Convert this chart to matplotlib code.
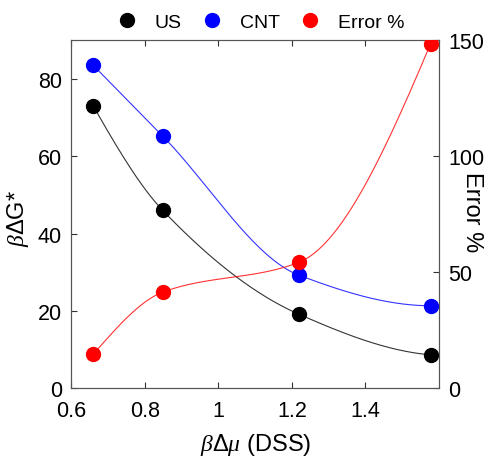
import numpy as np
import matplotlib
matplotlib.use("Agg")
import matplotlib.pyplot as plt
from matplotlib.lines import Line2D

plt.rcParams['font.family'] = ['Liberation Sans', 'DejaVu Sans']
plt.rcParams['mathtext.fontset'] = 'custom'
plt.rcParams['mathtext.rm'] = 'Liberation Sans'
plt.rcParams['mathtext.it'] = 'Liberation Serif:italic'

# data
dmu = [0.659, 0.848, 1.219, 1.577]
us = [73.1, 46.1, 19.2, 8.7]
cnt = [83.6, 65.3, 29.3, 21.4]
err = [14.8, 41.5, 54.4, 148.5]

xticks = [0.6, 0.8, 1.0, 1.2, 1.4]
xticklabels = ['0.6', '0.8', '1', '1.2', '1.4']


def pchip(x, y, n=300):
    # shape preserving cubic (Fritsch-Carlson, like matlab pchip)
    x = np.asarray(x, float)
    y = np.asarray(y, float)
    h = np.diff(x)
    dl = np.diff(y) / h
    m = len(x)
    d = np.zeros(m)
    for k in range(1, m - 1):
        if dl[k - 1] * dl[k] > 0:
            w1 = 2 * h[k] + h[k - 1]
            w2 = h[k] + 2 * h[k - 1]
            d[k] = (w1 + w2) / (w1 / dl[k - 1] + w2 / dl[k])

    def end(h0, h1, d0, d1):
        s = ((2 * h0 + h1) * d0 - h0 * d1) / (h0 + h1)
        if np.sign(s) != np.sign(d0):
            s = 0.0
        elif np.sign(d0) != np.sign(d1) and abs(s) > abs(3 * d0):
            s = 3 * d0
        return s

    d[0] = end(h[0], h[1], dl[0], dl[1])
    d[-1] = end(h[-1], h[-2], dl[-1], dl[-2])

    xs = np.linspace(x[0], x[-1], n)
    k = np.clip(np.searchsorted(x, xs) - 1, 0, m - 2)
    t = (xs - x[k]) / h[k]
    h00 = 2 * t**3 - 3 * t**2 + 1
    h10 = t**3 - 2 * t**2 + t
    h01 = -2 * t**3 + 3 * t**2
    h11 = t**3 - t**2
    ys = h00 * y[k] + h10 * h[k] * d[k] + h01 * y[k + 1] + h11 * h[k] * d[k + 1]
    return xs, ys


fig = plt.figure(figsize=(4.85, 4.6), dpi=100)
ax = fig.add_axes([0.1474, 0.1533, 0.7577, 0.7565])
ax2 = ax.twinx()

for y, col in [(us, 'black'), (cnt, 'blue')]:
    xs, ys = pchip(dmu, y)
    ax.plot(xs, ys, color=col, lw=0.8, alpha=0.8)
    ax.plot(dmu, y, 'o', color=col, ms=10, zorder=5)

xs, ys = pchip(dmu, err)
ax2.plot(xs, ys, color='red', lw=0.8, alpha=0.8)
ax2.plot(dmu, err, 'o', color='red', ms=10, zorder=5)

ax.set_xlim(0.6, 1.6)
ax.set_ylim(0, 90)
ax2.set_ylim(0, 150)
ax.set_xticks(xticks)
ax.set_xticklabels(xticklabels)
ax.set_yticks([0, 20, 40, 60, 80])
ax2.set_yticks([0, 50, 100, 150])

ax.tick_params(direction='in', length=4, labelsize=15.5, top=True,
               color='#333333')
ax.tick_params(axis='x', pad=8)
ax.tick_params(axis='y', pad=7)
ax2.tick_params(direction='in', length=4, labelsize=15.5, pad=6.5,
                color='#333333')
for a in (ax, ax2):
    for s in a.spines.values():
        s.set_color('#555555')
        s.set_linewidth(0.8)

ax.set_xlabel(r'$\beta\Delta\mu$ (DSS)', fontsize=17, va='center')
ax.xaxis.set_label_coords(0.5, -0.16)
ax.set_ylabel(r'$\beta\Delta$G*', fontsize=17, va='center')
ax.yaxis.set_label_coords(-0.146, 0.49)
ax2.set_ylabel('Error %', fontsize=17, rotation=270, va='center')
ax2.yaxis.set_label_coords(1.09, 0.51)

handles = [Line2D([], [], marker='o', ls='', color=c, ms=10)
           for c in ('black', 'blue', 'red')]
fig.legend(handles, ['US', 'CNT', 'Error %'], loc='center',
           bbox_to_anchor=(0.538, 0.95), ncol=3, frameon=False, fontsize=14,
           handlelength=1.0, handletextpad=0.95, columnspacing=1.05,
           borderpad=0, borderaxespad=0)

fig.savefig('out.png', dpi=100)
